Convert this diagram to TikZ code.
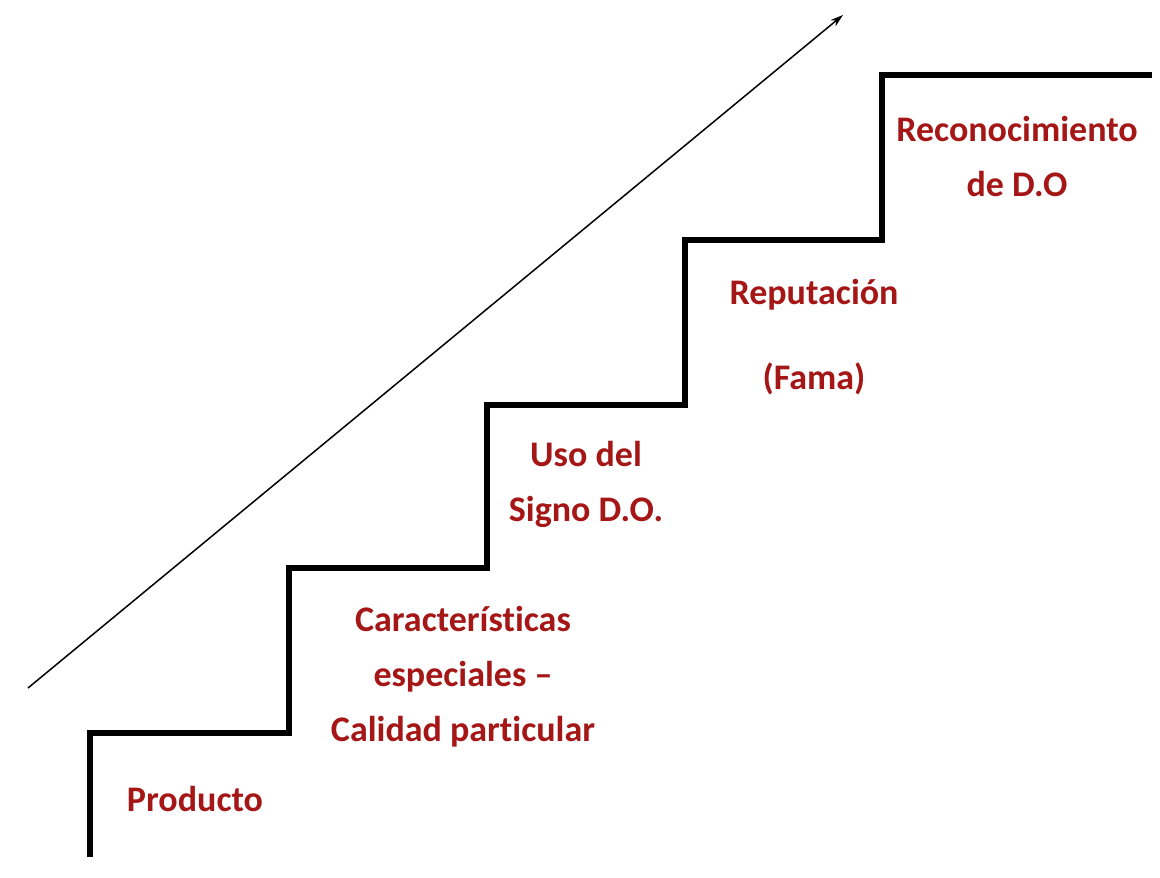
\documentclass[tikz,border=0pt]{standalone}
\usepackage{fontspec}
\setmainfont{Carlito}[Ligatures=NoCommon]
\usetikzlibrary{arrows.meta}
\definecolor{lbl}{RGB}{165,22,22}
\begin{document}
\begin{tikzpicture}[x=1pt,y=-1pt,
  stair/.style={line width=6pt,line join=miter,line cap=butt},
  lab/.style={text=lbl,font=\bfseries\fontsize{36}{55}\selectfont,align=center,inner sep=0pt,anchor=base}]
\useasboundingbox (0,0) rectangle (1160,878);
\draw[stair] (90,857) -- (90,733) -- (289,733) -- (289,568) -- (487,568) -- (487,405) -- (685,405) -- (685,240) -- (882,240) -- (882,75) -- (1152,75);
\coordinate (a0) at (28,688);
\coordinate (a1) at (843,15);
\draw[line width=1.5pt,-{Stealth[length=13pt,width=8pt]}] (a0) -- (a1);
\node[lab] (p) at (195,811) {Producto};
\node[lab] (c) at (463,741) {Características\\especiales –\\Calidad particular};
\node[lab] (u) at (586,521) {Uso del\\Signo D.O.};
\node[lab] (r) at (814,304) {Reputación};
\node[lab] (f) at (814,389) {(Fama)};
\node[lab] (d) at (1017,196) {Reconocimiento\\de D.O};
\end{tikzpicture}
\end{document}
